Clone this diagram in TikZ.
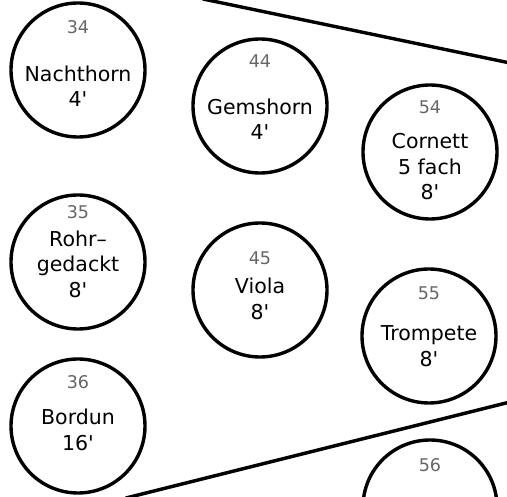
\documentclass[tikz,border=0pt]{standalone}
\usepackage{fontspec}
\setmainfont{DejaVu Sans}[Ligatures=TeXOff]
\begin{document}
\begin{tikzpicture}[x=1pt,y=-1pt,
  stop/.style={circle,draw=black,line width=3.4pt,minimum size=134pt,inner sep=0pt},
  num/.style={font=\fontsize{17.5}{17.5}\selectfont,text=black!60},
  nm/.style={font=\fontsize{20.5}{25.5}\selectfont,align=center,text=black},
  wall/.style={line width=3.4pt,line cap=round}]
\useasboundingbox[fill=white] (0,0) rectangle (507,497);
% circles
\node[stop] (c34) at (78,70) {};
\node[stop] (c44) at (260,106) {};
\node[stop] (c54) at (430,152) {};
\node[stop] (c35) at (78,262) {};
\node[stop] (c45) at (260,290) {};
\node[stop] (c55) at (429,336) {};
\node[stop] (c36) at (78,426) {};
\node[stop] (c56) at (430,507) {};
% numbers
\node[num] (n34) at (78,27) {34};
\node[num] (n44) at (260,61) {44};
\node[num] (n54) at (430,107) {54};
\node[num] (n35) at (78,212) {35};
\node[num] (n45) at (260,258) {45};
\node[num] (n55) at (429,293) {55};
\node[num] (n36) at (78,382) {36};
\node[num] (n56) at (430,465) {56};
% names
\node[nm] (t34) at (78,86) {Nachthorn\\4'};
\node[nm] (t44) at (260,119) {Gemshorn\\4'};
\node[nm] (t54) at (430,167) {Cornett\\5 fach\\8'};
\node[nm] (t35) at (78,264) {Rohr–\\gedackt\\8'};
\node[nm] (t45) at (260,299) {Viola\\8'};
\node[nm] (t55) at (429,346) {Trompete\\8'};
\node[nm] (t36) at (78,430) {Bordun\\16'};
% walls
\coordinate (w1) at (203,-1);
\coordinate (w2) at (510,63);
\coordinate (w3) at (126,498);
\coordinate (w4) at (510,402);
\draw[wall] (w1) -- (w2);
\draw[wall] (w3) -- (w4);
\end{tikzpicture}
\end{document}
